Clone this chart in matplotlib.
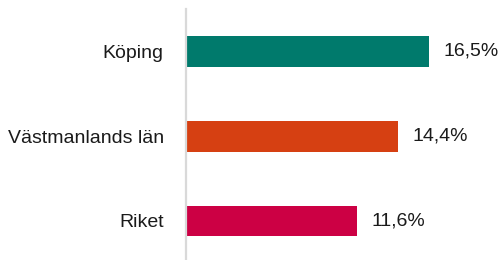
import matplotlib
matplotlib.use("Agg")
from matplotlib import pyplot as plt

categories = ["Köping", "Västmanlands län", "Riket"]
values = [16.5, 14.4, 11.6]
labels = ["16,5%", "14,4%", "11,6%"]
colors = ["#007A6C", "#D64012", "#CC0044"]

plt.rcParams['font.family'] = ['Liberation Sans', 'DejaVu Sans']

fig = plt.figure(figsize=(5.04, 2.6), dpi=100)
ax = fig.add_axes([186 / 504, 0, 318 / 504, 251 / 260])

ypos = list(range(len(categories)))
ax.barh(ypos, values, height=0.365, color=colors)

for y, v, lab in zip(ypos, values, labels):
    ax.text(v + 1.0, y, lab, va='center', ha='left', fontsize=14, color='#1a1a1a')

ax.set_xlim(0, 318 / 14.73)
ax.set_ylim(2.46, -0.5)
ax.set_yticks(ypos)
ax.set_yticklabels(categories, fontsize=14, color='#1a1a1a')
ax.tick_params(axis='y', length=0, pad=16)
ax.set_xticks([])

for side in ['top', 'right', 'bottom']:
    ax.spines[side].set_visible(False)
ax.spines['left'].set_color('#D9D9D9')
ax.spines['left'].set_linewidth(1.6)

fig.savefig("out.png", dpi=100)
